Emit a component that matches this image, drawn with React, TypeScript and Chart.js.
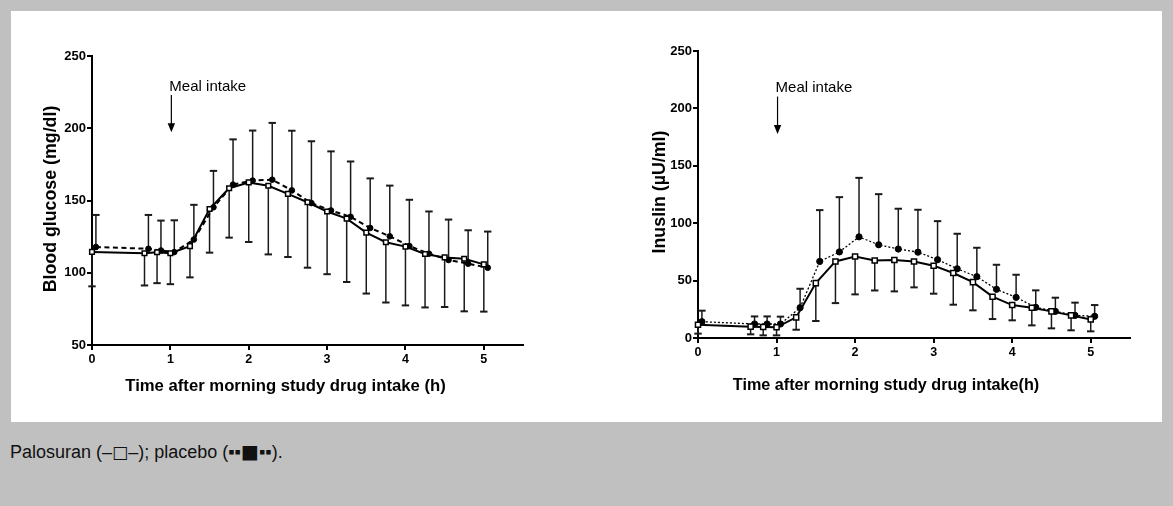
import React, { useEffect, useRef } from "react";
import { Chart, registerables } from "chart.js";

Chart.register(...registerables);

const FONT = "'Liberation Sans', Arial, Helvetica, sans-serif";
const SYMBOL_FONT = "'DejaVu Sans', sans-serif";

// ---- Data (hours after morning study drug intake) ----
const palosuranTimes = [0, 0.67, 0.83, 1, 1.25, 1.5, 1.75, 2, 2.25, 2.5, 2.75, 3, 3.25, 3.5, 3.75, 4, 4.25, 4.5, 4.75, 5];
const placeboTimes = [0.05, 0.72, 0.88, 1.05, 1.3, 1.55, 1.8, 2.05, 2.3, 2.55, 2.8, 3.05, 3.3, 3.55, 3.8, 4.05, 4.3, 4.55, 4.8, 5.05];

// Blood glucose (mg/dl)
const glucosePalosuran = [114.4, 113.5, 114.2, 113.5, 118.4, 144.1, 158.5, 162.5, 160.2, 154.6, 148.8, 142.4, 137.5, 127.8, 121.1, 118.1, 113.0, 110.6, 109.7, 105.8];
const glucosePalosuranLow = [90.6, 91.2, 92.8, 92.1, 96.8, 113.9, 124.3, 121.3, 112.7, 110.9, 103.5, 99.0, 93.6, 85.6, 79.4, 77.4, 76.0, 76.3, 73.3, 73.1];
const glucosePlacebo = [117.8, 116.6, 115.4, 114.3, 123.0, 145.3, 161.0, 163.8, 164.4, 157.0, 148.2, 143.1, 138.7, 131.0, 125.2, 118.5, 113.2, 108.8, 106.3, 103.5];
const glucosePlaceboHigh = [140.0, 140.0, 136.1, 136.3, 147.0, 170.5, 192.3, 198.4, 203.7, 198.3, 191.0, 184.0, 177.0, 165.3, 160.3, 150.5, 142.4, 136.8, 129.4, 128.5];

// Insulin (µU/ml)
const insulinPalosuran = [11.6, 9.9, 9.6, 9.3, 18.0, 47.8, 66.7, 71.0, 67.5, 67.9, 66.7, 63.0, 56.6, 48.7, 36.0, 28.7, 26.4, 23.2, 19.7, 16.2];
const insulinPalosuranLow = [3.8, 3.2, 2.3, 2.3, 7.2, 14.8, 30.4, 38.0, 41.4, 40.6, 44.1, 38.6, 29.0, 24.1, 16.5, 15.4, 11.0, 8.4, 6.7, 5.8];
const insulinPlacebo = [14.2, 12.2, 12.2, 12.2, 26.4, 66.7, 75.0, 88.1, 81.2, 77.5, 74.8, 68.2, 60.3, 53.4, 42.4, 35.4, 26.7, 23.2, 19.7, 18.9];
const insulinPlaceboHigh = [23.8, 18.8, 18.8, 18.6, 42.9, 111.4, 122.7, 139.5, 125.3, 112.6, 111.7, 101.8, 90.8, 78.6, 63.8, 55.1, 41.5, 35.1, 30.8, 28.7];

const xTickValues = [0, 1, 2, 3, 4, 5];
const glucoseTickValues = [50, 100, 150, 200, 250];
const insulinTickValues = [0, 50, 100, 150, 200, 250];
const mealTime = 1;
const mealLabel = "Meal intake";

type PanelCfg = {
  left: number; top: number; w: number; h: number;
  yMin: number; yMax: number; yTicks: number[];
  pal: number[]; palLow: number[]; pla: number[]; plaHigh: number[];
  xTitle: string; yTitle: string;
  xTitlePos: [number, number]; yTitlePos: [number, number];
  xTitleSize: number; yTitleSize: number;
  padTop: number; padRight: number; yWidth: number; xHeight: number;
  dash: number[]; dashWidth: number;
  sqR: number; ciR: number;
  mealTextY: number; arrowTopY: number; arrowTipY: number;
};

const leftCfg: PanelCfg = {
  left: 11, top: 11, w: 575, h: 400,
  yMin: 50, yMax: 250, yTicks: glucoseTickValues,
  pal: glucosePalosuran, palLow: glucosePalosuranLow, pla: glucosePlacebo, plaHigh: glucosePlaceboHigh,
  xTitle: "Time after morning study drug intake (h)", yTitle: "Blood glucose (mg/dl)",
  xTitlePos: [274.5, 375], yTitlePos: [40, 188],
  xTitleSize: 16.7, yTitleSize: 17.8,
  padTop: 45, padRight: 63, yWidth: 81, xHeight: 66,
  dash: [5, 3.5], dashWidth: 2,
  sqR: 3.3, ciR: 2.8,
  mealTextY: 228.5, arrowTopY: 223, arrowTipY: 197.2,
};

const rightCfg: PanelCfg = {
  left: 586, top: 11, w: 576, h: 400,
  yMin: 0, yMax: 250, yTicks: insulinTickValues,
  pal: insulinPalosuran, palLow: insulinPalosuranLow, pla: insulinPlacebo, plaHigh: insulinPlaceboHigh,
  xTitle: "Time after morning study drug intake(h)", yTitle: "Inuslin (\u00B5U/ml)",
  xTitlePos: [300, 375], yTitlePos: [74, 181],
  xTitleSize: 16.2, yTitleSize: 17.8,
  padTop: 40, padRight: 32, yWidth: 112, xHeight: 73,
  dash: [2, 2], dashWidth: 1.3,
  sqR: 3.6, ciR: 3.1,
  mealTextY: 218.3, arrowTopY: 210.3, arrowTipY: 177.6,
};

const errorBarPlugin = {
  id: "errorBars",
  beforeDatasetsDraw(chart: any) {
    const ctx = chart.ctx;
    const ys = chart.scales.y;
    chart.data.datasets.forEach((ds: any, di: number) => {
      const meta = chart.getDatasetMeta(di);
      const ends: number[] = ds.errorEnds || [];
      meta.data.forEach((pt: any, i: number) => {
        if (ends[i] == null) return;
        const x = pt.x;
        const y = pt.y;
        const ye = ys.getPixelForValue(ends[i]);
        ctx.save();
        ctx.strokeStyle = "#1a1a1a";
        ctx.lineWidth = 1.5;
        ctx.beginPath();
        ctx.moveTo(x, y);
        ctx.lineTo(x, ye);
        ctx.stroke();
        ctx.lineWidth = 2;
        ctx.beginPath();
        ctx.moveTo(x - 3.7, ye);
        ctx.lineTo(x + 3.7, ye);
        ctx.stroke();
        ctx.restore();
      });
    });
  },
};

function annotationPlugin(cfg: PanelCfg) {
  return {
    id: "annotations",
    afterDraw(chart: any) {
      const ctx = chart.ctx;
      const xs = chart.scales.x;
      const ys = chart.scales.y;
      ctx.save();
      ctx.fillStyle = "#000";
      ctx.strokeStyle = "#000";
      // Meal intake label + arrow
      const mx = xs.getPixelForValue(mealTime);
      ctx.font = `15px ${FONT}`;
      ctx.textAlign = "left";
      ctx.textBaseline = "middle";
      ctx.fillText(mealLabel, mx - 1, ys.getPixelForValue(cfg.mealTextY));
      const ax = mx + 1;
      const yTop = ys.getPixelForValue(cfg.arrowTopY);
      const yTip = ys.getPixelForValue(cfg.arrowTipY);
      ctx.lineWidth = 1.2;
      ctx.beginPath();
      ctx.moveTo(ax, yTop);
      ctx.lineTo(ax, yTip - 8);
      ctx.stroke();
      ctx.beginPath();
      ctx.moveTo(ax - 3.7, yTip - 9);
      ctx.lineTo(ax + 3.7, yTip - 9);
      ctx.lineTo(ax, yTip);
      ctx.closePath();
      ctx.fill();
      // Axis titles
      ctx.font = `bold ${cfg.xTitleSize}px ${FONT}`;
      ctx.textAlign = "center";
      ctx.textBaseline = "middle";
      ctx.fillText(cfg.xTitle, cfg.xTitlePos[0], cfg.xTitlePos[1]);
      ctx.translate(cfg.yTitlePos[0], cfg.yTitlePos[1]);
      ctx.rotate(-Math.PI / 2);
      ctx.font = `bold ${cfg.yTitleSize}px ${FONT}`;
      ctx.fillText(cfg.yTitle, 0, 0);
      ctx.restore();
    },
  };
}

function buildConfig(cfg: PanelCfg): any {
  return {
    type: "line",
    data: {
      datasets: [
        {
          label: "Palosuran",
          data: palosuranTimes.map((t, i) => ({ x: t, y: cfg.pal[i] })),
          borderColor: "#000",
          borderWidth: 2,
          pointStyle: "rect",
          pointRadius: cfg.sqR,
          pointBackgroundColor: "#fff",
          pointBorderColor: "#000",
          pointBorderWidth: 1.5,
          tension: 0,
          clip: false,
          errorEnds: cfg.palLow,
        },
        {
          label: "Placebo",
          data: placeboTimes.map((t, i) => ({ x: t, y: cfg.pla[i] })),
          borderColor: "#000",
          borderWidth: cfg.dashWidth,
          borderDash: cfg.dash,
          pointStyle: "circle",
          pointRadius: cfg.ciR,
          pointBackgroundColor: "#000",
          pointBorderColor: "#000",
          pointBorderWidth: 1,
          tension: 0,
          clip: false,
          errorEnds: cfg.plaHigh,
        },
      ],
    },
    options: {
      animation: false,
      responsive: false,
      maintainAspectRatio: false,
      events: [],
      layout: { padding: { left: 0, top: cfg.padTop, right: cfg.padRight, bottom: 0 } },
      plugins: { legend: { display: false }, tooltip: { enabled: false }, title: { display: false } },
      scales: {
        x: {
          type: "linear",
          min: 0,
          max: 5.5,
          afterFit: (s: any) => { s.height = cfg.xHeight; },
          afterBuildTicks: (s: any) => { s.ticks = xTickValues.map((v) => ({ value: v })); },
          border: { display: true, color: "#000", width: 2 },
          grid: { display: true, drawOnChartArea: false, drawTicks: true, tickLength: 5, color: "#000", lineWidth: 2 },
          ticks: {
            color: "#000",
            font: { family: FONT, size: 12.5, weight: "bold" },
            padding: 2,
            autoSkip: false,
            maxRotation: 0,
            callback: (v: any) => String(v),
          },
        },
        y: {
          type: "linear",
          min: cfg.yMin,
          max: cfg.yMax,
          afterFit: (s: any) => { s.width = cfg.yWidth; },
          afterBuildTicks: (s: any) => { s.ticks = cfg.yTicks.map((v) => ({ value: v })); },
          border: { display: true, color: "#000", width: 2 },
          grid: { display: true, drawOnChartArea: false, drawTicks: true, tickLength: 5, color: "#000", lineWidth: 2 },
          ticks: {
            color: "#000",
            font: { family: FONT, size: 13, weight: "bold" },
            padding: 1,
            autoSkip: false,
            callback: (v: any) => String(v),
          },
        },
      },
    },
    plugins: [errorBarPlugin, annotationPlugin(cfg)],
  };
}

function Panel({ cfg }: { cfg: PanelCfg }) {
  const ref = useRef<HTMLCanvasElement>(null);
  useEffect(() => {
    const chart = new Chart(ref.current as HTMLCanvasElement, buildConfig(cfg));
    return () => chart.destroy();
  }, [cfg]);
  return (
    <canvas
      ref={ref}
      width={cfg.w}
      height={cfg.h}
      style={{ position: "absolute", left: cfg.left, top: cfg.top, width: cfg.w, height: cfg.h }}
    />
  );
}

const sym = (size: number) => ({ fontFamily: SYMBOL_FONT, fontSize: size, lineHeight: "18px" });

export default function App() {
  return (
    <div
      style={{
        position: "absolute",
        left: 0,
        top: 0,
        width: 1173,
        height: 506,
        background: "#c0c0c0",
        overflow: "hidden",
        fontFamily: FONT,
      }}
    >
      <div style={{ position: "absolute", left: 11, top: 11, width: 1151, height: 411, background: "#fff" }} />
      <Panel cfg={leftCfg} />
      <Panel cfg={rightCfg} />
      <div
        style={{
          position: "absolute",
          left: 10,
          top: 442,
          fontSize: 18,
          lineHeight: "18px",
          color: "#111",
          whiteSpace: "nowrap",
          fontFamily: FONT,
        }}
      >
        Palosuran (–<span style={sym(17)}>□</span>–); placebo (▪▪<span style={sym(19)}>■</span>▪▪).
      </div>
    </div>
  );
}
